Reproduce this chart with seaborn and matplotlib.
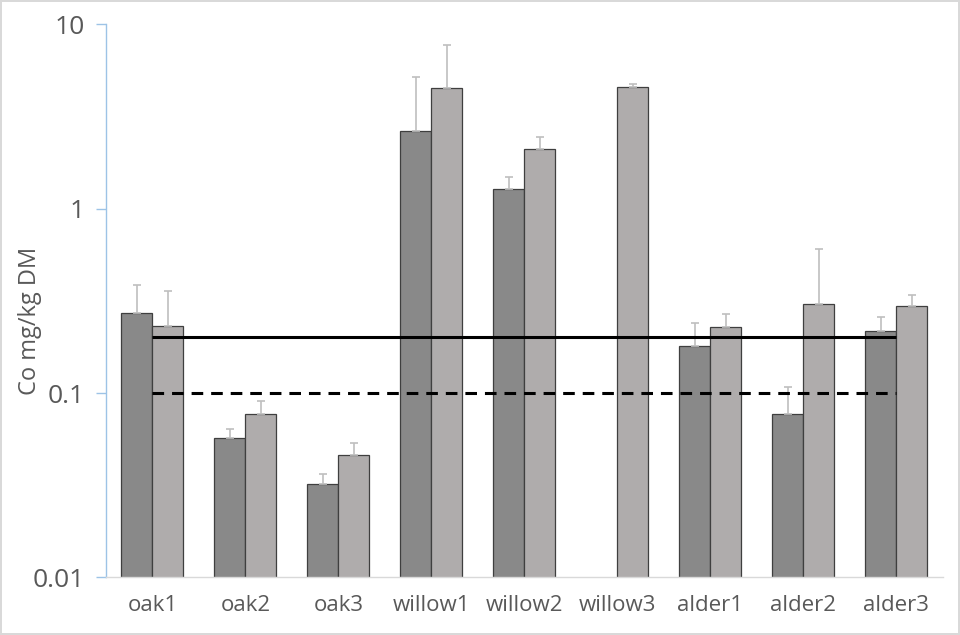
import numpy as np
import pandas as pd
import matplotlib
matplotlib.use("Agg")
import matplotlib.pyplot as plt
import seaborn as sns

# data
sites = ["oak1", "oak2", "oak3", "willow1", "willow2", "willow3", "alder1", "alder2", "alder3"]
series = ["A", "B"]
dark_values = [0.27, 0.057, 0.032, 2.65, 1.27, np.nan, 0.179, 0.077, 0.216]
light_values = [0.23, 0.077, 0.046, 4.48, 2.10, 4.54, 0.228, 0.305, 0.296]
dark_err = [0.115, 0.007, 0.0046, 2.49, 0.21, np.nan, 0.06, 0.031, 0.041]
light_err = [0.127, 0.014, 0.0077, 3.2, 0.35, 0.17, 0.039, 0.30, 0.044]
limit_solid = 0.2
limit_dashed = 0.1

DARK = "#898989"
LIGHT = "#b0acab"
TEXT = "#595959"


def build_frame():
    """Long table for seaborn."""
    rows = []
    for i, s in enumerate(sites):
        rows.append({"site": s, "series": series[0], "value": dark_values[i], "err": dark_err[i]})
        rows.append({"site": s, "series": series[1], "value": light_values[i], "err": light_err[i]})
    return pd.DataFrame(rows)


def main():
    sns.set_style("white")
    plt.rcParams["font.family"] = ["Open Sans", "DejaVu Sans"]

    data = build_frame()
    fig = plt.figure(figsize=(9.6, 6.35), dpi=100)
    fig.patch.set_edgecolor("#d9d9d9")
    fig.patch.set_linewidth(1.5)
    ax = fig.add_axes([0.1104, 0.0906, 0.8716, 0.8714])

    sns.barplot(data=data, x="site", y="value", hue="series", order=sites,
                hue_order=series, palette=[DARK, LIGHT], errorbar=None,
                width=0.667, gap=0, edgecolor="#3f3f3f", linewidth=0.9,
                legend=False, ax=ax)
    ax.set_yscale("log")
    ax.set_ylim(0.01, 10)
    ax.set_xlim(-0.5, len(sites) - 0.5)

    # upper error bars only, matched to each bar by its category slot
    for container, name in zip(ax.containers, series):
        sub = data[data["series"] == name].set_index("site")
        for bar in container.patches:
            cx = bar.get_x() + bar.get_width() / 2
            row = sub.loc[sites[int(round(cx))]]
            if np.isnan(row["value"]):
                continue
            ax.errorbar(cx, row["value"], yerr=[[0], [row["err"]]], fmt="none",
                        ecolor="#bfbfbf", elinewidth=1.2, capsize=3, capthick=1.2,
                        zorder=1)

    # reference lines
    ax.hlines(limit_solid, 0, len(sites) - 1, colors="black", linewidth=2.2, zorder=5)
    ax.hlines(limit_dashed, 0, len(sites) - 1, colors="black", linewidth=2.2,
              linestyles=(0, (3.8, 2.6)), zorder=5)

    ax.set_yticks([0.01, 0.1, 1, 10])
    ax.set_yticklabels(["0.01", "0.1", "1", "10"])
    ax.yaxis.set_minor_locator(matplotlib.ticker.NullLocator())
    ax.tick_params(axis="y", left=True, length=7, width=1, color="#9dc3e6",
                   labelsize=19, labelcolor=TEXT, pad=8)
    ax.tick_params(axis="x", bottom=False, labelsize=16, labelcolor=TEXT, pad=9)
    ax.set_xlabel("")
    ax.set_ylabel("Co mg/kg DM", fontsize=17, color=TEXT)
    ax.yaxis.set_label_coords(-0.076, 0.463)

    for side in ["top", "right"]:
        ax.spines[side].set_visible(False)
    ax.spines["left"].set_color("#9dc3e6")
    ax.spines["left"].set_linewidth(1)
    ax.spines["bottom"].set_color("#d9d9d9")
    ax.spines["bottom"].set_linewidth(1)

    fig.savefig("out.png", dpi=100, edgecolor=fig.get_edgecolor())


if __name__ == "__main__":
    main()
